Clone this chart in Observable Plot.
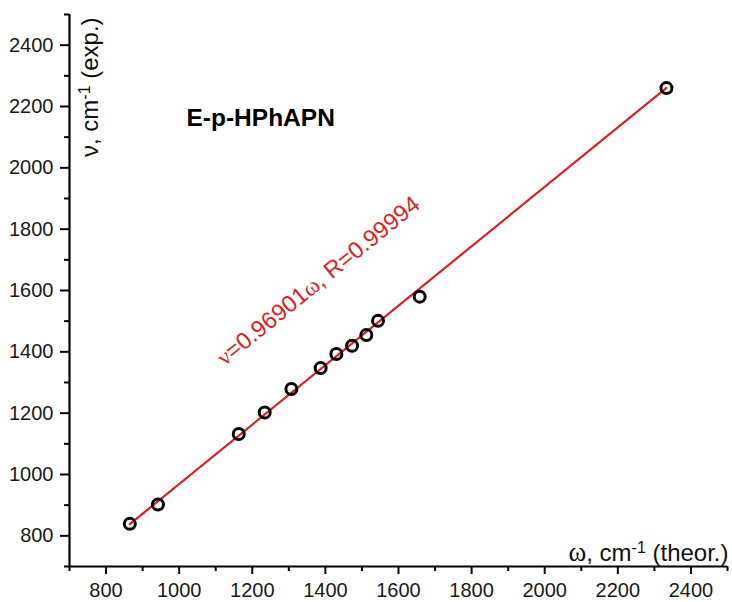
<!DOCTYPE html>
<html>
<head>
<meta charset="utf-8">
<script src="https://cdn.jsdelivr.net/npm/d3@7"></script>
<script src="https://cdn.jsdelivr.net/npm/@observablehq/plot@0.6"></script>
<style>
  html, body { margin: 0; padding: 0; background: #fff; }
  #chart svg { display: block; }
</style>
</head>
<body>
<div id="chart"></div>
<script>
// Data
const theor = [865, 942, 1163, 1234, 1307, 1387, 1430, 1473, 1512, 1544, 1658, 2333];
const expv  = [839, 902, 1132, 1202, 1279, 1347, 1393, 1420, 1455, 1501, 1580, 2260];
const fitSlope = 0.96901;
const fitR = 0.99994;
const fitRange = [865, 2333];
const majorTicks = [800, 1000, 1200, 1400, 1600, 1800, 2000, 2200, 2400];
const minorTicks = [700, 900, 1100, 1300, 1500, 1700, 1900, 2100, 2300, 2500];
const compound = "E-p-HPhAPN";
const xLabel = "ω, cm-1 (theor.)";
const yLabel = "ν, cm-1 (exp.)";
const eqLabel = `ν=${fitSlope}ω, R=${fitR}`;

const points = theor.map((t, i) => ({t, e: expv[i]}));
const fitLine = fitRange.map(t => ({t, e: fitSlope * t}));

const red = "#dc1f26";

const chart = Plot.plot({
  width: 732,
  height: 602,
  marginLeft: 69,
  marginRight: 5,
  marginTop: 14,
  marginBottom: 36,
  style: {fontFamily: "'Liberation Sans', Arial, sans-serif", fontSize: "20px", color: "#1a1a1a", background: "#fff"},
  x: {domain: [700, 2500]},
  y: {domain: [700, 2500]},
  marks: [
    Plot.axisX({ticks: minorTicks, tickSize: 5, tickFormat: () => "", strokeWidth: 2, stroke: "#000", label: null}),
    Plot.axisX({ticks: majorTicks, tickSize: 8, tickPadding: 8, strokeWidth: 2, stroke: "#000", fill: "#1a1a1a", label: null, tickFormat: d => String(d)}),
    Plot.axisY({ticks: minorTicks, tickSize: 5, tickFormat: () => "", strokeWidth: 2, stroke: "#000", label: null}),
    Plot.axisY({ticks: majorTicks, tickSize: 9, tickPadding: 7, strokeWidth: 2, stroke: "#000", fill: "#1a1a1a", label: null, tickFormat: d => String(d)}),
    Plot.ruleX([700], {stroke: "#000", strokeWidth: 2.2}),
    Plot.ruleY([700], {stroke: "#000", strokeWidth: 2.2}),
    Plot.line(fitLine, {x: "t", y: "e", stroke: red, strokeWidth: 2.2}),
    Plot.dot(points, {x: "t", y: "e", r: 5.5, stroke: "#000", strokeWidth: 3, fill: "none"}),
    Plot.text([compound], {x: 1020, y: 2162, text: d => d, textAnchor: "start", fontWeight: "bold", fontSize: 24.5, fill: "#000"}),
    Plot.text([eqLabel], {x: 1381, y: 1631, text: d => d, rotate: -39, fontSize: 23.5, fill: red}),
    Plot.text([yLabel], {x: 757, y: 2263, text: d => d, rotate: -90, fontSize: 24, fill: "#111"}),
    Plot.text([xLabel], {x: 2500, y: 744, dx: 1, text: d => d, textAnchor: "end", fontSize: 24, fill: "#111"})
  ]
});

// Typographic touches: serif Greek letters and superscripts, still real text
const serif = "'Liberation Serif', 'Times New Roman', serif";
chart.querySelectorAll("text").forEach(t => {
  const s = t.textContent;
  if (s === eqLabel) {
    t.innerHTML = `<tspan font-family="${serif}">ν</tspan>=${fitSlope}<tspan font-family="${serif}">ω</tspan>, R=${fitR}`;
  } else if (s === xLabel) {
    t.innerHTML = `<tspan font-family="${serif}" font-size="27">ω</tspan>, cm<tspan baseline-shift="super" font-size="16">-1</tspan> (theor.)`;
  } else if (s === yLabel) {
    t.innerHTML = `ν, cm<tspan baseline-shift="super" font-size="16">-1</tspan> (exp.)`;
  }
});

document.getElementById("chart").appendChild(chart);
</script>
</body>
</html>
